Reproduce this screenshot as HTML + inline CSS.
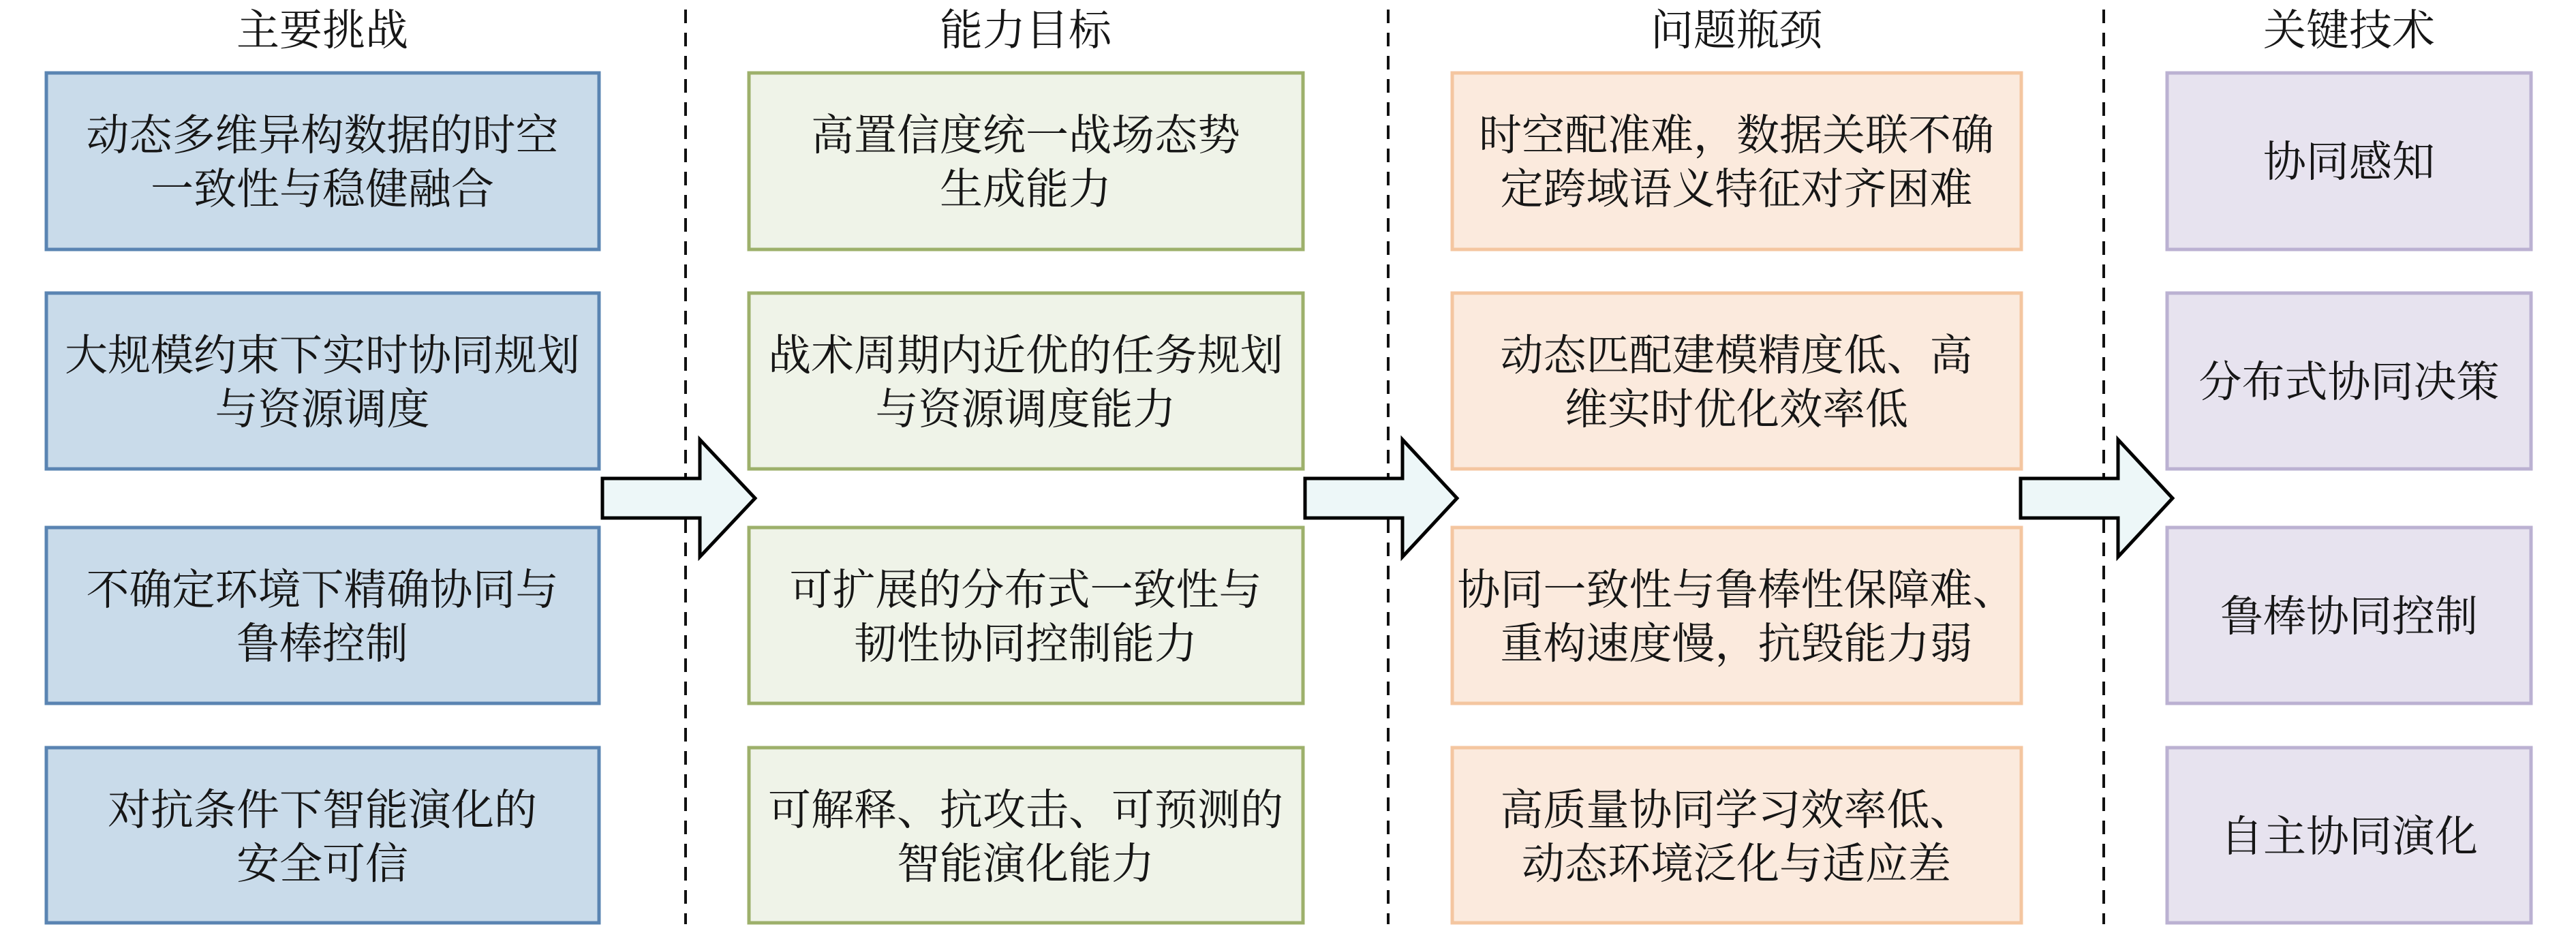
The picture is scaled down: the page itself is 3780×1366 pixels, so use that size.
<!DOCTYPE html>
<html><head><meta charset="utf-8"><style>
html,body{margin:0;padding:0;background:#fff;}
svg text{font-family:"Liberation Serif","Noto Serif CJK SC",serif;font-size:63px;fill:#161616;}
</style></head><body>
<svg width="3780" height="1361" viewBox="0 0 3780 1361" xmlns="http://www.w3.org/2000/svg">
<g stroke="#111" stroke-width="4" stroke-dasharray="20 14">
<line x1="1006" y1="14" x2="1006" y2="1356"/>
<line x1="2037" y1="14" x2="2037" y2="1356"/>
<line x1="3087" y1="14" x2="3087" y2="1356"/>
</g>
<g text-anchor="middle">
<text x="473" y="66">主要挑战</text>
<text x="1505" y="66">能力目标</text>
<text x="2548" y="66">问题瓶颈</text>
<text x="3447" y="66">关键技术</text>
</g>
<g fill="#c9dbea" stroke="#5a84b2" stroke-width="5">
<rect x="68" y="107" width="811" height="259"/>
<rect x="68" y="430" width="811" height="258"/>
<rect x="68" y="774" width="811" height="258"/>
<rect x="68" y="1097" width="811" height="257"/>
</g>
<g fill="#eff3e8" stroke="#9db06b" stroke-width="5">
<rect x="1099" y="107" width="813" height="259"/>
<rect x="1099" y="430" width="813" height="258"/>
<rect x="1099" y="774" width="813" height="258"/>
<rect x="1099" y="1097" width="813" height="257"/>
</g>
<g fill="#fbeadd" stroke="#f4c6a0" stroke-width="5">
<rect x="2131" y="107" width="835" height="259"/>
<rect x="2131" y="430" width="835" height="258"/>
<rect x="2131" y="774" width="835" height="258"/>
<rect x="2131" y="1097" width="835" height="257"/>
</g>
<g fill="#e7e3ef" stroke="#bbb1d2" stroke-width="5">
<rect x="3180" y="107" width="534" height="259"/>
<rect x="3180" y="430" width="534" height="258"/>
<rect x="3180" y="774" width="534" height="258"/>
<rect x="3180" y="1097" width="534" height="257"/>
</g>
<g text-anchor="middle">
<text x="473" y="220">动态多维异构数据的时空</text>
<text x="473" y="299">一致性与稳健融合</text>
<text x="473" y="543">大规模约束下实时协同规划</text>
<text x="473" y="622">与资源调度</text>
<text x="473" y="887">不确定环境下精确协同与</text>
<text x="473" y="966">鲁棒控制</text>
<text x="473" y="1210">对抗条件下智能演化的</text>
<text x="473" y="1289">安全可信</text>

<text x="1505" y="220">高置信度统一战场态势</text>
<text x="1505" y="299">生成能力</text>
<text x="1505" y="543">战术周期内近优的任务规划</text>
<text x="1505" y="622">与资源调度能力</text>
<text x="1505" y="887">可扩展的分布式一致性与</text>
<text x="1505" y="966">韧性协同控制能力</text>
<text x="1505" y="1210">可解释、抗攻击、可预测的</text>
<text x="1505" y="1289">智能演化能力</text>

<text x="2548" y="220">时空配准难，数据关联不确</text>
<text x="2548" y="299">定跨域语义特征对齐困难</text>
<text x="2548" y="543">动态匹配建模精度低、高</text>
<text x="2548" y="622">维实时优化效率低</text>
<text x="2548" y="887">协同一致性与鲁棒性保障难、</text>
<text x="2548" y="966">重构速度慢，抗毁能力弱</text>
<text x="2548" y="1210">高质量协同学习效率低、</text>
<text x="2548" y="1289">动态环境泛化与适应差</text>

<text x="3447" y="259">协同感知</text>
<text x="3447" y="582">分布式协同决策</text>
<text x="3447" y="926">鲁棒协同控制</text>
<text x="3447" y="1249">自主协同演化</text>
</g>
<g fill="#edf7f8" stroke="#000" stroke-width="5" stroke-linejoin="miter">
<polygon points="884,702 1027,702 1027,645 1108,731 1027,817 1027,760 884,760"/>
<polygon points="1915,702 2058,702 2058,645 2138,731 2058,817 2058,760 1915,760"/>
<polygon points="2965,702 3108,702 3108,645 3188,731 3108,817 3108,760 2965,760"/>
</g>
</svg>
</body></html>
